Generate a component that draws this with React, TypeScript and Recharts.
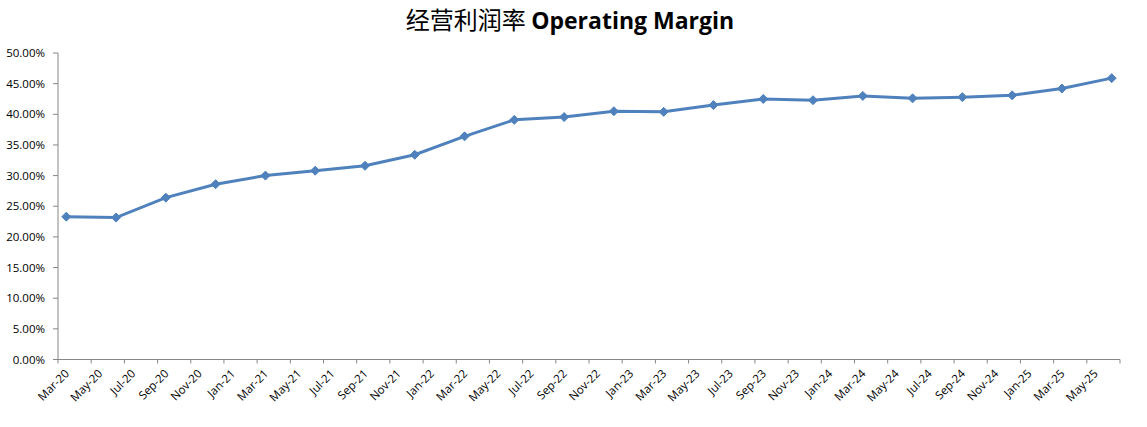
import { LineChart, Line, XAxis, YAxis } from "recharts";

// quarterly operating margin, %
const quarters = [
  "Mar-20", "Jun-20", "Sep-20", "Dec-20",
  "Mar-21", "Jun-21", "Sep-21", "Dec-21",
  "Mar-22", "Jun-22", "Sep-22", "Dec-22",
  "Mar-23", "Jun-23", "Sep-23", "Dec-23",
  "Mar-24", "Jun-24", "Sep-24", "Dec-24",
  "Mar-25", "Jun-25",
];
const margins = [
  23.3, 23.15, 26.4, 28.6,
  30.0, 30.8, 31.6, 33.4,
  36.4, 39.1, 39.55, 40.5,
  40.4, 41.5, 42.5, 42.3,
  43.0, 42.6, 42.8, 43.1,
  44.2, 45.9,
];

// axis labels, every 2 months
const tickLabels = [
  "Mar-20", "May-20", "Jul-20", "Sep-20", "Nov-20",
  "Jan-21", "Mar-21", "May-21", "Jul-21", "Sep-21", "Nov-21",
  "Jan-22", "Mar-22", "May-22", "Jul-22", "Sep-22", "Nov-22",
  "Jan-23", "Mar-23", "May-23", "Jul-23", "Sep-23", "Nov-23",
  "Jan-24", "Mar-24", "May-24", "Jul-24", "Sep-24", "Nov-24",
  "Jan-25", "Mar-25", "May-25",
];
const yTicks = [0, 5, 10, 15, 20, 25, 30, 35, 40, 45, 50];

const MONTHS = ["Jan", "Feb", "Mar", "Apr", "May", "Jun", "Jul", "Aug", "Sep", "Oct", "Nov", "Dec"];

// months since Mar-20
const monthIndex = (label: string) => {
  const [m, y] = label.split("-");
  return (Number(y) - 20) * 12 + MONTHS.indexOf(m) - 2;
};

const data = quarters.map((q, i) => ({
  month: monthIndex(q) + 0.5, // centre of the month slot
  margin: margins[i],
}));

const xTicks = [...tickLabels.map(monthIndex), 64];

const FONT = "'Open Sans', 'DejaVu Sans', sans-serif";

const MonthTick = (props: any) => {
  const { x, y, payload } = props;
  const label = tickLabels[payload.index] ?? "";
  if (!label) return null;
  return (
    <g transform={`translate(${x + 9},${y + 6})`}>
      <text
        transform="rotate(-45)"
        textAnchor="end"
        dy="0.35em"
        fontSize={11.5}
        fill="#000"
        fontFamily={FONT}
      >
        {label}
      </text>
    </g>
  );
};

const Diamond = (props: any) => {
  const { cx, cy } = props;
  if (cx == null || cy == null) return null;
  const r = 4.5;
  return (
    <path
      d={`M${cx},${cy - r}L${cx + r},${cy}L${cx},${cy + r}L${cx - r},${cy}Z`}
      fill="#4F81BD"
      stroke="#4F81BD"
      strokeWidth={1}
    />
  );
};

export default function App() {
  return (
    <div style={{ position: "absolute", left: 0, top: 0, width: 1147, height: 427, background: "#fff" }}>
      <div
        style={{
          position: "absolute",
          top: 3,
          left: 0,
          width: 1140,
          textAlign: "center",
          fontSize: 24,
          lineHeight: "32px",
          color: "#000",
        }}
      >
        <span style={{ fontFamily: "'Noto Sans CJK SC'", fontWeight: 400 }}>经营利润率 </span>
        <span style={{ fontFamily: "'Open Sans', sans-serif", fontWeight: 700, fontSize: 23 }}>Operating Margin</span>
      </div>
      <LineChart
        width={1147}
        height={427}
        data={data}
        margin={{ top: 53, right: 27, bottom: 0, left: 8 }}
      >
        <XAxis
          dataKey="month"
          type="number"
          domain={[0, 64]}
          ticks={xTicks}
          interval={0}
          height={67.5}
          stroke="#868686"
          tickSize={4}
          tick={<MonthTick />}
          allowDecimals
        />
        <YAxis
          type="number"
          domain={[0, 50]}
          ticks={yTicks}
          interval={0}
          width={50}
          stroke="#868686"
          tickSize={5}
          tickMargin={8}
          tickFormatter={(v: number) => `${v.toFixed(2)}%`}
          tick={{ fontSize: 11.5, fill: "#000", fontFamily: FONT }}
        />
        <Line
          type="linear"
          dataKey="margin"
          stroke="#4F81BD"
          strokeWidth={3}
          dot={<Diamond />}
          activeDot={false}
          isAnimationActive={false}
        />
      </LineChart>
    </div>
  );
}
